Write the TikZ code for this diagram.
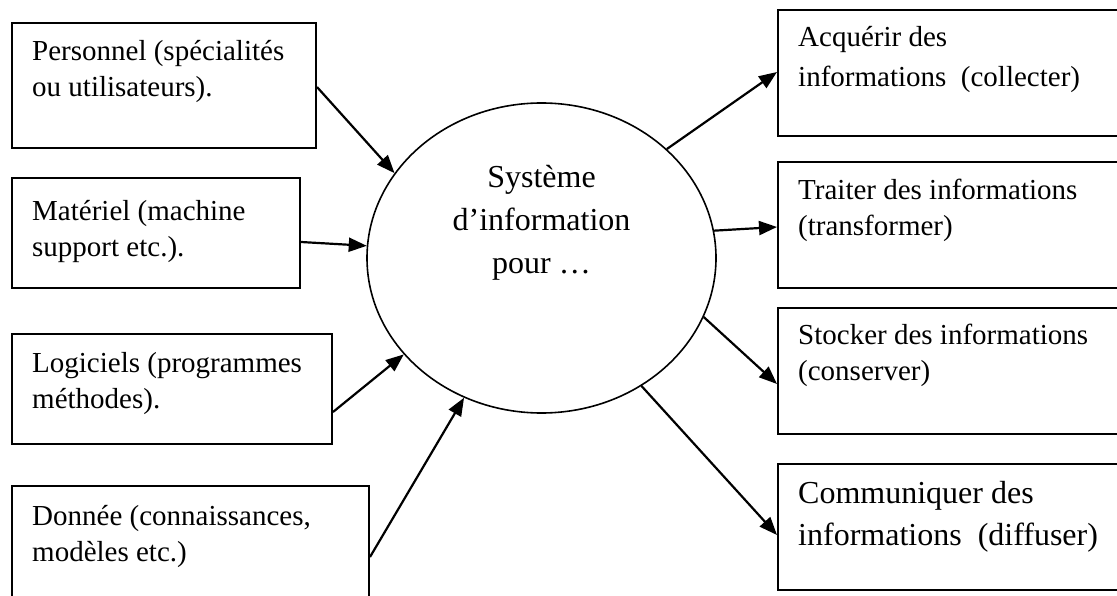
\documentclass[tikz,border=0pt]{standalone}
\usepackage{fontspec}
\setmainfont{Liberation Serif}
\usetikzlibrary{shapes.geometric,arrows.meta}
\newcommand\tstrut{\rule{0pt}{25pt}}
\newcommand\bstrut{\rule{0pt}{27pt}}
\begin{document}
\begin{tikzpicture}[x=1pt,y=-1pt,
  boxnode/.style={draw,line width=2pt,inner sep=0pt,anchor=north west},
  txt/.style={inner sep=0pt,anchor=north west,align=left,font=\fontsize{29pt}{36pt}\selectfont},
  bigtxt/.style={inner sep=0pt,align=left,font=\fontsize{32pt}{42pt}\selectfont},
  arr/.style={line width=2.2pt,-{Triangle[length=18pt,width=14pt]}}]
\useasboundingbox (0,0) rectangle (1117,596);
\clip (0,0) rectangle (1117,596);
% left boxes
\node[boxnode,minimum width=304pt,minimum height=125pt] (p1) at (11,22) {};
\node[boxnode,minimum width=288pt,minimum height=110pt] (p2) at (11,177) {};
\node[boxnode,minimum width=320pt,minimum height=110pt] (p3) at (11,333) {};
\node[boxnode,minimum width=357pt,minimum height=140pt] (p4) at (11,485) {};
\node[txt] (p1t) at ([xshift=21pt,yshift=-13pt]p1.north west) {\tstrut Personnel (spécialités\\ou utilisateurs).};
\node[txt] (p2t) at ([xshift=21pt,yshift=-18pt]p2.north west) {\tstrut Matériel (machine\\support etc.).};
\node[txt] (p3t) at ([xshift=21pt,yshift=-14pt]p3.north west) {\tstrut Logiciels (programmes\\méthodes).};
\node[txt] (p4t) at ([xshift=21pt,yshift=-15pt]p4.north west) {\tstrut Donnée (connaissances,\\modèles etc.)};
% right boxes
\node[boxnode,minimum width=360pt,minimum height=126pt] (rA) at (777,9) {};
\node[boxnode,minimum width=360pt,minimum height=126pt] (rT) at (777,161) {};
\node[boxnode,minimum width=360pt,minimum height=126pt] (rS) at (777,307) {};
\node[boxnode,minimum width=360pt,minimum height=126pt] (rC) at (777,463) {};
\node[txt,font=\fontsize{29pt}{40pt}\selectfont] (rAt) at ([xshift=21pt,yshift=-12pt]rA.north west) {\tstrut Acquérir des\\informations\ \ (collecter)};
\node[txt] (rTt) at ([xshift=21pt,yshift=-13pt]rT.north west) {\tstrut Traiter des informations\\(transformer)};
\node[txt] (rSt) at ([xshift=21pt,yshift=-12pt]rS.north west) {\tstrut Stocker des informations\\(conserver)};
\node[bigtxt,anchor=north west] (rCt) at ([xshift=21pt,yshift=-13pt]rC.north west) {\bstrut Communiquer des\\informations\ \ (diffuser)};
% central ellipse
\node[draw,ellipse,line width=1.6pt,minimum width=349pt,minimum height=310pt,inner sep=0pt] (sys) at (541.5,258) {};
\node[bigtxt,align=center,anchor=north,font=\fontsize{32pt}{43pt}\selectfont] (syst) at (541.5,160) {\bstrut Système\\d’information\\pour …};
% arrows in
\draw[arr] ([yshift=-65pt]p1.north east) -- (sys.150.6);
\draw[arr] ([yshift=-65pt]p2.north east) -- (sys.176.7);
\draw[arr] ([yshift=-79pt]p3.north east) -- (sys.215.1);
\draw[arr] ([yshift=-72pt]p4.north east) -- (sys.241.4);
% arrows out
\draw[arr] (sys.41.5) -- ([yshift=-63pt]rA.north west);
\draw[arr] (sys.9.4) -- ([yshift=-66pt]rT.north west);
\draw[arr] (sys.-20.7) -- ([yshift=-77pt]rS.north west);
\draw[arr] (sys.-52.4) -- ([yshift=-72pt]rC.north west);
\end{tikzpicture}
\end{document}
